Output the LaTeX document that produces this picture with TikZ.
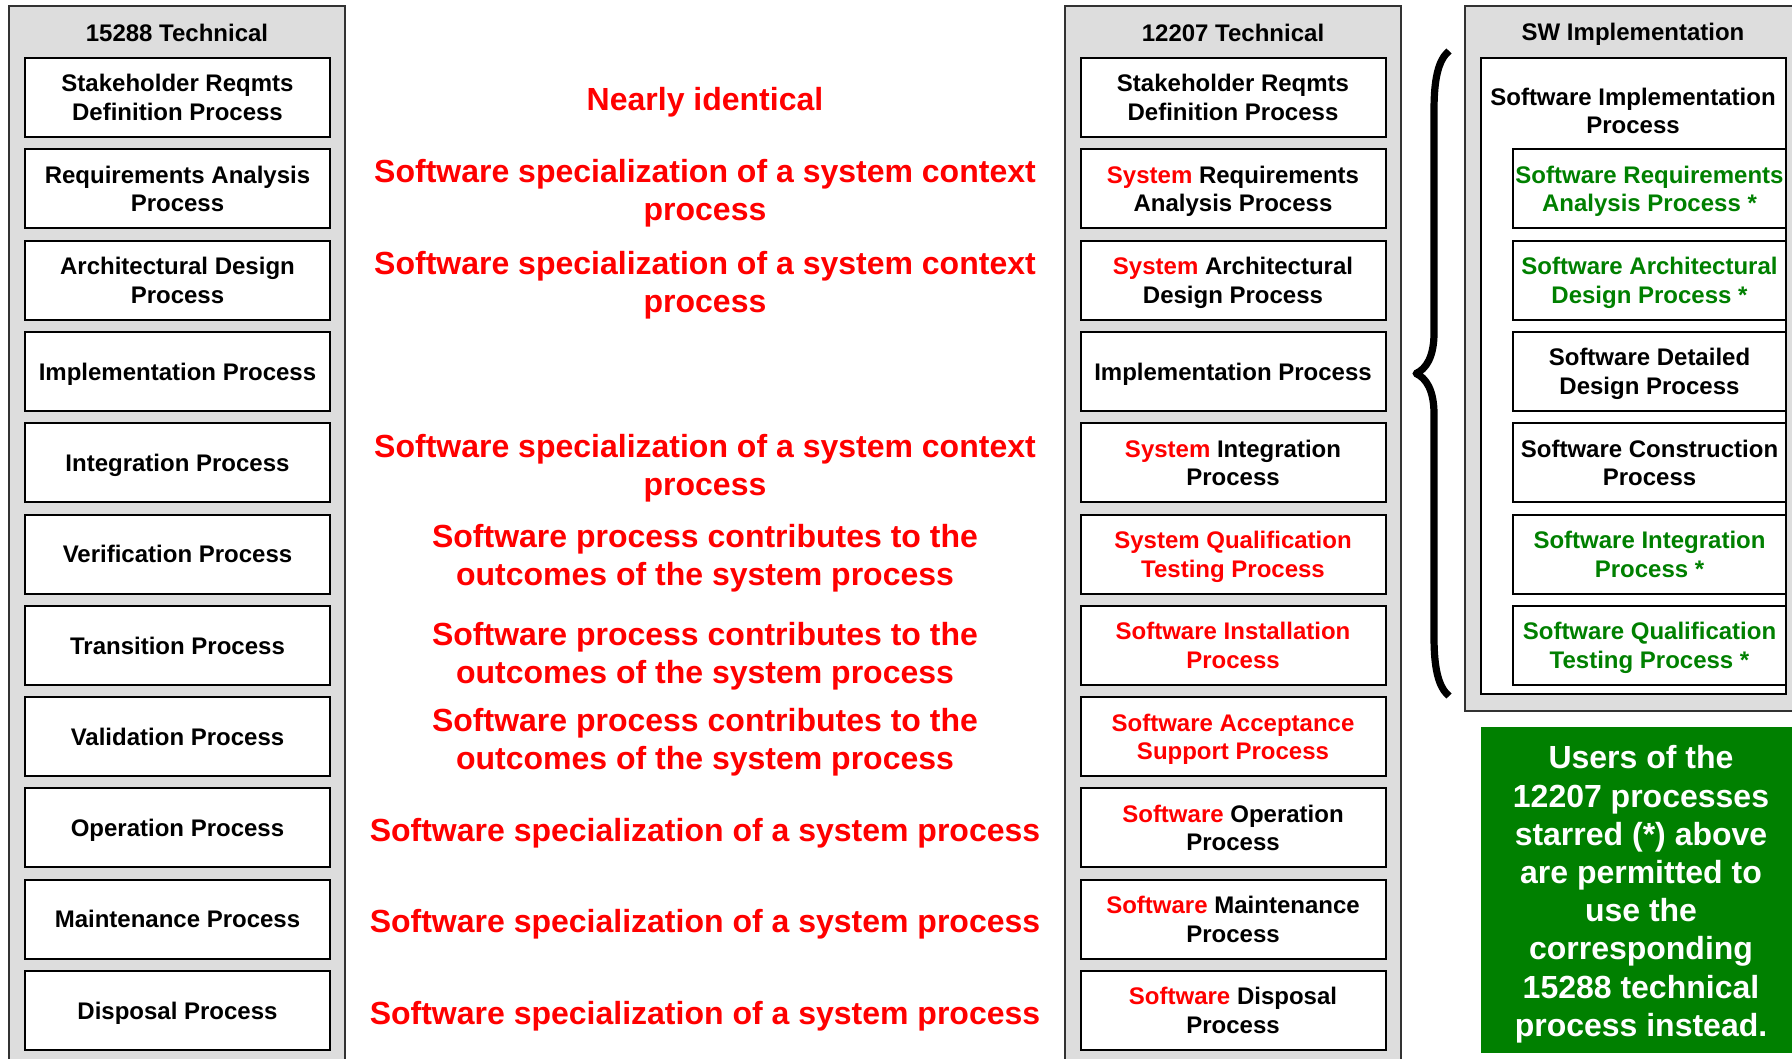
\documentclass[tikz,border=0pt]{standalone}
\usepackage{fontspec}
\setmainfont{Liberation Sans}
\definecolor{pgray}{RGB}{221,221,221}
\definecolor{rred}{RGB}{255,0,0}
\definecolor{ggreen}{RGB}{0,128,0}
\definecolor{pborder}{RGB}{50,50,50}
\begin{document}
\begin{tikzpicture}[x=0.5pt,y=-0.5pt,
  panel/.style={draw=pborder,fill=pgray,line width=1pt},
  ptitle/.style={font=\fontsize{12}{14.3}\selectfont\bfseries,inner sep=0pt},
  pbox/.style={draw=black,fill=white,line width=1pt,minimum width=152.5pt,minimum height=39.5pt,inner sep=0pt,text depth=0pt,align=center,font=\fontsize{12}{14.3}\selectfont\bfseries},
  swbox/.style={pbox,minimum width=136.5pt},
  remark/.style={font=\fontsize{16}{19}\selectfont\bfseries,text=rred,align=center,inner sep=0pt,text depth=0pt},
  notetext/.style={font=\fontsize{16}{19.1}\selectfont\bfseries,text=white,align=center,inner sep=0pt,text depth=0pt},
  bracestyle/.style={line width=3.6pt,line join=round,line cap=butt}]
\useasboundingbox (0,0) rectangle (1792,1059);
\fill[white] (0,0) rectangle (1792,1059);
% panels
\draw[panel] (9,6) rectangle (345,1075);
\draw[panel] (1065,6) rectangle (1401,1075);
\draw[panel] (1465,6) rectangle (1810,711);
\draw[draw=black,fill=white,line width=1pt] (1481,58) rectangle (1786,694);
\node[ptitle] (t1) at (177,33) {15288 Technical};
\node[ptitle] (t2) at (1233,33) {12207 Technical};
\node[ptitle] (t3) at (1633,34) {SW Implementation};
\node[ptitle,align=center] (swi) at (1633,111) {Software Implementation\\Process};
% left column
\foreach \i/\t in {0/{Stakeholder Reqmts\\Definition Process},
  1/{Requirements Analysis\\Process},
  2/{Architectural Design\\Process},
  3/{Implementation Process},
  4/{Integration Process},
  5/{Verification Process},
  6/{Transition Process},
  7/{Validation Process},
  8/{Operation Process},
  9/{Maintenance Process},
  10/{Disposal Process}}
  \node[pbox] (L\i) at (177.5,{97.5+91.3*\i}) {\t};
% middle column
\newcommand{\rd}[1]{\textcolor{rred}{#1}}
\node[pbox] (R0) at (1233,97.5) {Stakeholder Reqmts\\Definition Process};
\node[pbox] (R1) at (1233,188.8) {\rd{System} Requirements\\Analysis Process};
\node[pbox] (R2) at (1233,280.1) {\rd{System} Architectural\\Design Process};
\node[pbox] (R3) at (1233,371.4) {Implementation Process};
\node[pbox] (R4) at (1233,462.7) {\rd{System} Integration\\Process};
\node[pbox,text=rred] (R5) at (1233,554.0) {System Qualification\\Testing Process};
\node[pbox,text=rred] (R6) at (1233,645.3) {Software Installation\\Process};
\node[pbox,text=rred] (R7) at (1233,736.6) {Software Acceptance\\Support Process};
\node[pbox] (R8) at (1233,827.9) {\rd{Software} Operation\\Process};
\node[pbox] (R9) at (1233,919.2) {\rd{Software} Maintenance\\Process};
\node[pbox] (R10) at (1233,1010.5) {\rd{Software} Disposal\\Process};
% SW implementation boxes
\node[swbox,text=ggreen] (S1) at (1649.5,188.8) {Software Requirements\\Analysis Process *};
\node[swbox,text=ggreen] (S2) at (1649.5,280.1) {Software Architectural\\Design Process *};
\node[swbox] (S3) at (1649.5,371.4) {Software Detailed\\Design Process};
\node[swbox] (S4) at (1649.5,462.7) {Software Construction\\Process};
\node[swbox,text=ggreen] (S5) at (1649.5,554.0) {Software Integration\\Process *};
\node[swbox,text=ggreen] (S6) at (1649.5,645.3) {Software Qualification\\Testing Process *};
% middle remarks
\node[remark] (M0) at (705,99) {Nearly identical};
\node[remark] (M1) at (705,190) {Software specialization of a system context\\process};
\node[remark] (M2) at (705,281.5) {Software specialization of a system context\\process};
\node[remark] (M4) at (705,464.5) {Software specialization of a system context\\process};
\node[remark] (M5) at (705,555) {Software process contributes to the\\outcomes of the system process};
\node[remark] (M6) at (705,653) {Software process contributes to the\\outcomes of the system process};
\node[remark] (M7) at (705,739) {Software process contributes to the\\outcomes of the system process};
\node[remark] (M8) at (705,830) {Software specialization of a system process};
\node[remark] (M9) at (705,921) {Software specialization of a system process};
\node[remark] (M10) at (705,1012.5) {Software specialization of a system process};
% brace
\draw[bracestyle] (1449,51) .. controls (1438,60) and (1434,80) .. (1434,110)
  -- (1434,333) .. controls (1434,357) and (1426,369) .. (1416,373.5)
  .. controls (1426,378) and (1434,390) .. (1434,414)
  -- (1434,637) .. controls (1434,667) and (1438,687) .. (1449,696);
% green note
\fill[ggreen] (1481,727) rectangle (1810,1053);
\node[notetext] (note) at (1641,891) {Users of the\\12207 processes\\starred (*) above\\are permitted to\\use the\\corresponding\\15288 technical\\process instead.};
\end{tikzpicture}
\end{document}
